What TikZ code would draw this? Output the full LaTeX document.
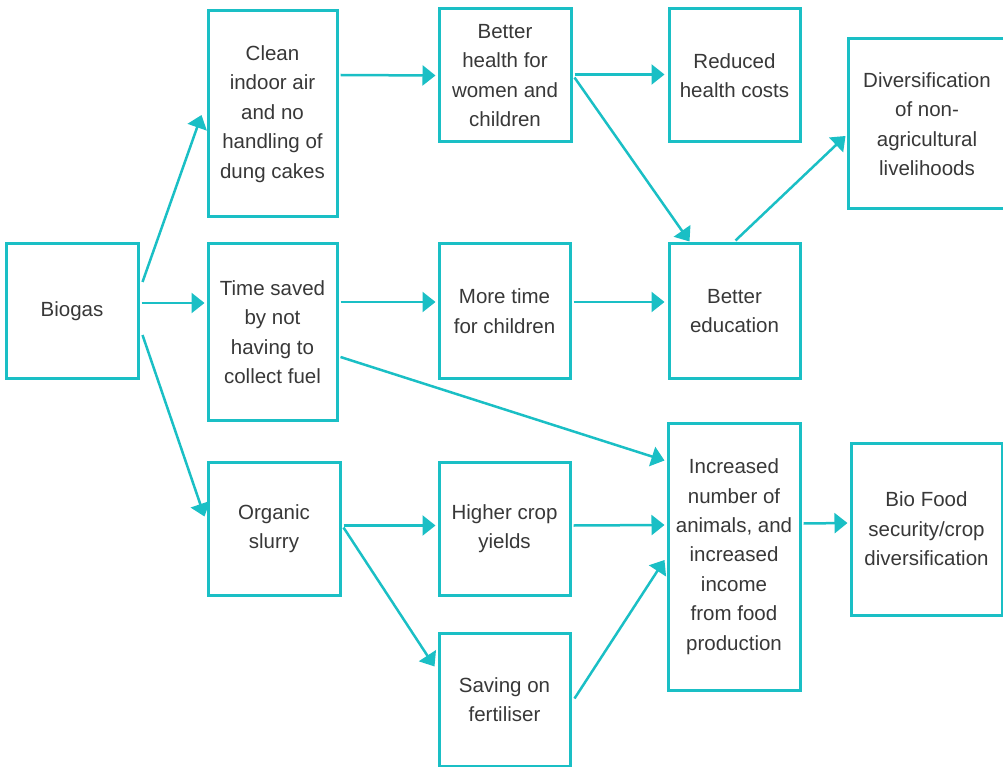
\documentclass[tikz,border=0pt]{standalone}
\usepackage{fontspec}
\setmainfont{Liberation Sans}
\usetikzlibrary{arrows.meta}
\definecolor{teal1}{HTML}{1ABFC5}
\definecolor{txt}{HTML}{383838}
\begin{document}
\begin{tikzpicture}[x=1pt,y=-1pt,
  box/.style={draw=teal1,line width=3pt,fill=white,inner sep=0pt,align=center,
    text=txt,font=\fontsize{20.5}{29.4}\selectfont},
  arr/.style={draw=teal1,line width=2.5pt,-{Triangle[length=13pt,width=20pt]}}]
\useasboundingbox (0,0) rectangle (1003,767);
\node[box,minimum width=132pt,minimum height=134pt] (bio) at (72,311) {Biogas};
\node[box,minimum width=129pt,minimum height=206pt] (clean) at (272.5,114) {Clean\\indoor air\\and no\\handling of\\dung cakes};
\node[box,minimum width=129pt,minimum height=176pt] (time) at (272.5,332) {Time saved\\by not\\having to\\collect fuel};
\node[box,minimum width=132pt,minimum height=133pt] (org) at (274,528.5) {Organic\\slurry};
\node[box,minimum width=132pt,minimum height=133pt] (health) at (505,75.5) {Better\\health for\\women and\\children};
\node[box,minimum width=131pt,minimum height=134pt] (more) at (504.5,311) {More time\\for children};
\node[box,minimum width=131pt,minimum height=133pt] (crop) at (504.5,528.5) {Higher crop\\yields};
\node[box,minimum width=131pt,minimum height=133pt] (save) at (504.5,699.5) {Saving on\\fertiliser};
\node[box,minimum width=131pt,minimum height=133pt] (reduced) at (734.5,75.5) {Reduced\\health costs};
\node[box,minimum width=131pt,minimum height=134pt] (edu) at (734.5,311) {Better\\education};
\node[box,minimum width=132pt,minimum height=267pt] (inc) at (734,556.5) {Increased\\number of\\animals, and\\increased\\income\\from food\\production};
\node[box,minimum width=158pt,minimum height=170pt] (div) at (927,124) {Diversification\\of non-\\agricultural\\livelihoods};
\node[box,minimum width=151pt,minimum height=172pt] (food) at (926.5,529) {Bio Food\\security/crop\\diversification};
\draw[arr] ([shift={(3,-29)}]bio.east) -- ([shift={(-5,1)}]clean.west);
\draw[arr] ([shift={(2,-8)}]bio.east) -- ([shift={(-2,-29)}]time.west);
\draw[arr] ([shift={(3,24)}]bio.east) -- ([shift={(-2,-12)}]org.west);
\draw[arr] ([shift={(2,-39)}]clean.east) -- ([shift={(-2,0)}]health.west);
\draw[arr] ([shift={(2,-1)}]health.east) -- ([shift={(-3,-1)}]reduced.west);
\draw[arr] ([shift={(2,2)}]health.east) -- ([shift={(-45,-1)}]edu.north);
\draw[arr] ([shift={(2,-30)}]time.east) -- ([shift={(-2,-9)}]more.west);
\draw[arr] ([shift={(2,-9)}]more.east) -- ([shift={(-3,-9)}]edu.west);
\draw[arr] ([shift={(1,-2)}]edu.north) -- ([shift={(-1,12)}]div.west);
\draw[arr] ([shift={(2,25)}]time.east) -- ([shift={(-2,-96)}]inc.west);
\draw[arr] ([shift={(2,-3)}]org.east) -- ([shift={(-2,-3)}]crop.west);
\draw[arr] ([shift={(2,-3)}]crop.east) -- ([shift={(-2,-31.5)}]inc.west);
\draw[arr] ([shift={(2,-1)}]org.east) -- ([shift={(-3,-33)}]save.west);
\draw[arr] ([shift={(3,-1)}]save.east) -- ([shift={(-2,3.5)}]inc.west);
\draw[arr] ([shift={(2,-33)}]inc.east) -- ([shift={(-2,-6)}]food.west);
\end{tikzpicture}
\end{document}
